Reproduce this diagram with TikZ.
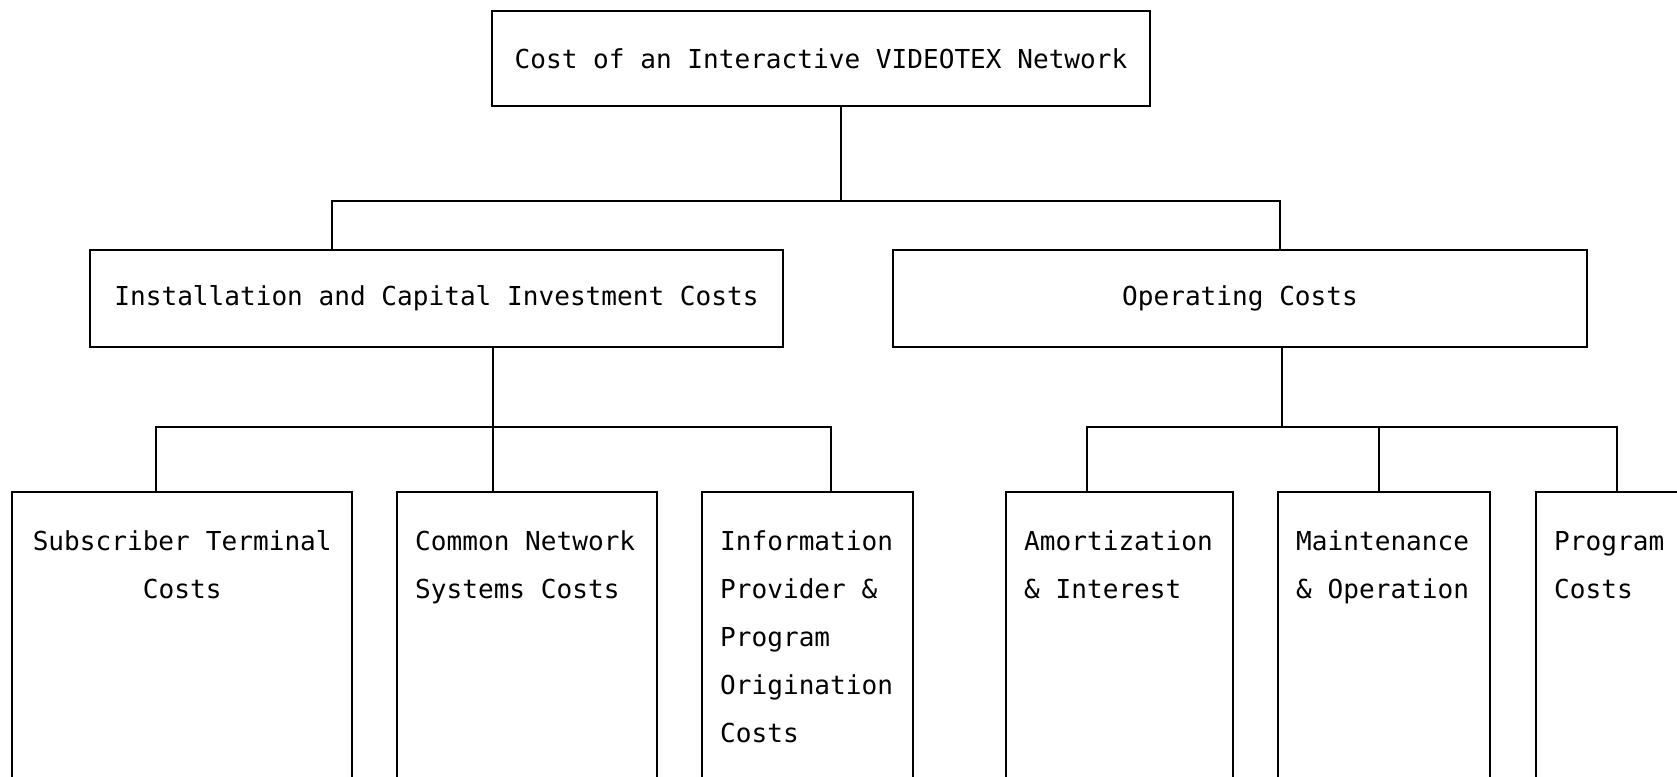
\documentclass[tikz,border=0pt]{standalone}
\usepackage{fontspec}
\newfontfamily\typefont{DejaVu Sans Mono}

\begin{document}
\begin{tikzpicture}[
    b/.style={draw, line width=1.4pt, inner sep=0pt,
              font={\typefont\fontsize{14.85pt}{27.3pt}\selectfont}},
    leaf/.style={b, anchor=north west, inner xsep=0.36cm, text width=#1,
                 text height=1.16cm, text depth=6cm, align=left,
                 execute at begin node={\spaceskip=0pt\xspaceskip=0pt}},
    ln/.style={line width=1.4pt}
]
\useasboundingbox (0,0) rectangle (33.54,15.54);
\clip (0,0) rectangle (33.54,15.54);

\node[b, minimum width=13.16cm, minimum height=1.9cm] (top) at (16.42,14.37)
    {Cost of an Interactive VIDEOTEX Network};
\node[b, minimum width=13.86cm, minimum height=1.94cm] (inst) at (8.73,9.57)
    {Installation and Capital Investment Costs};
\node[b, minimum width=13.88cm, minimum height=1.94cm] (oper) at (24.80,9.57)
    {Operating Costs};

\node[leaf=6.08cm, align=center] (sub) at (0.22,5.72) {Subscriber Terminal\\Costs};
\node[leaf=4.48cm] (com) at (7.92,5.72) {Common Network\\Systems Costs};
\node[leaf=3.50cm] (inf) at (14.02,5.72) {Information\\Provider \&\\Program\\Origination\\Costs};
\node[leaf=3.82cm] (amo) at (20.10,5.72) {Amortization\\\& Interest};
\node[leaf=3.52cm] (mai) at (25.54,5.72) {Maintenance\\\& Operation};
\node[leaf=3.52cm] (pro) at (30.70,5.72) {Program\\Costs};

% junctions
\coordinate (j0) at (16.82,11.52);
\coordinate (jl) at (6.64,11.52);
\coordinate (jr) at (25.60,11.52);
\coordinate (k1) at (3.12,7.0);
\coordinate (k2) at (9.86,7.0);
\coordinate (k3) at (16.62,7.0);
\coordinate (m1) at (21.74,7.0);
\coordinate (mo) at (25.64,7.0);
\coordinate (m2) at (27.58,7.0);
\coordinate (m3) at (32.34,7.0);

\draw[ln] (top.south -| j0) -- (j0);
\draw[ln] (inst.north -| jl) -- (jl) -- (jr) -- (oper.north -| jr);

\draw[ln] (inst.south -| k2) -- (k2);
\draw[ln] (sub.north -| k1) -- (k1) -- (k3) -- (inf.north -| k3);
\draw[ln] (k2) -- (com.north -| k2);

\draw[ln] (oper.south -| mo) -- (mo);
\draw[ln] (amo.north -| m1) -- (m1) -- (m3) -- (pro.north -| m3);
\draw[ln] (m2) -- (mai.north -| m2);
\end{tikzpicture}
\end{document}
